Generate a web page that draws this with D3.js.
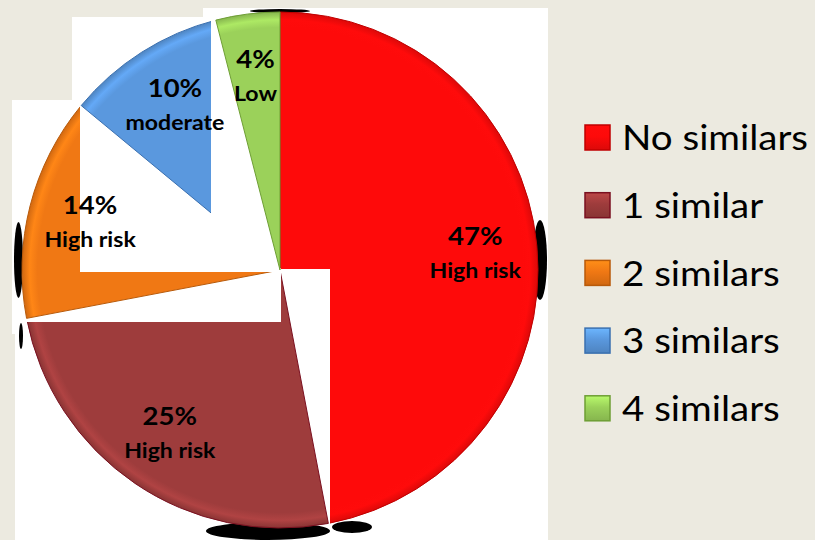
<!DOCTYPE html>
<html>
<head>
<meta charset="utf-8">
<script src="https://cdn.jsdelivr.net/npm/d3@7"></script>
<style>
  html, body { margin: 0; padding: 0; background: #ECEAE0; }
  svg { display: block; }
</style>
</head>
<body>
<script>
// chart data
var categories = ['No similars', '1 similar', '2 similars', '3 similars', '4 similars'];
var values = [47, 25, 14, 10, 4];
var riskLabels = ['High risk', 'High risk', 'High risk', 'moderate', 'Low'];

var W = 815, H = 540;
var cx = 280, cy = 270, r = 258;

var color = d3.scaleOrdinal()
    .domain(categories)
    .range(['#FE0A0A', '#9E3C3C', '#F07814', '#5A98DE', '#9BD15A']);
var edge = d3.scaleOrdinal()
    .domain(categories)
    .range(['#C00000', '#7A1020', '#B85A0A', '#3A70B0', '#6E9E35']);

var svg = d3.select('body').append('svg')
    .attr('width', W)
    .attr('height', H);

svg.append('rect').attr('width', W).attr('height', H).attr('fill', '#ECEAE0');

// white plot area (stepped)
var bg = svg.append('g').attr('fill', '#fff');
bg.append('rect').attr('x', 203).attr('y', 8).attr('width', 345).attr('height', H - 8);
bg.append('rect').attr('x', 72).attr('y', 17).attr('width', 140).attr('height', H - 17);
bg.append('rect').attr('x', 15).attr('y', 100).attr('width', 70).attr('height', H - 100);
bg.append('rect').attr('x', 12).attr('y', 100).attr('width', 5).attr('height', 234);

var defs = svg.append('defs');

// bevel-ish shading for slices
categories.forEach(function(c, i) {
    var g = defs.append('radialGradient')
        .attr('id', 'sl' + i)
        .attr('gradientUnits', 'userSpaceOnUse')
        .attr('cx', 0).attr('cy', 0).attr('r', r);
    var base = d3.color(color(c));
    g.append('stop').attr('offset', '0%').attr('stop-color', base);
    g.append('stop').attr('offset', '94%').attr('stop-color', base);
    g.append('stop').attr('offset', '97%').attr('stop-color', base.brighter(0.3));
    g.append('stop').attr('offset', '100%').attr('stop-color', base.darker(0.4));

    var lg = defs.append('linearGradient')
        .attr('id', 'lg' + i)
        .attr('x1', 0).attr('y1', 0).attr('x2', 0).attr('y2', 1);
    lg.append('stop').attr('offset', '0%').attr('stop-color', base.brighter(0.5));
    lg.append('stop').attr('offset', '45%').attr('stop-color', base);
    lg.append('stop').attr('offset', '100%').attr('stop-color', base.darker(0.4));
});

defs.append('clipPath').attr('id', 'blueClip')
    .append('rect').attr('x', 0).attr('y', 0).attr('width', 211).attr('height', H);

var pie = d3.pie().sort(null).value(function(d) { return d; });
var arcs = pie(values);
var arc = d3.arc().innerRadius(0).outerRadius(r);
var labelArc = d3.arc().innerRadius(r * 0.76).outerRadius(r * 0.76);

var layer = svg.append('g');

// leftover black shadow bits peeking out from under the pie
var shadows = [
    [18.5, 260, 4.5, 38], [21, 336, 2, 13],
    [540, 260, 7, 40],
    [268, 531, 62, 9], [352, 527, 20, 6],
    [280, 11, 30, 2]
];
layer.selectAll('ellipse.sh').data(shadows).enter().append('ellipse')
    .attr('class', 'sh')
    .attr('cx', function(d) { return d[0]; })
    .attr('cy', function(d) { return d[1]; })
    .attr('rx', function(d) { return d[2]; })
    .attr('ry', function(d) { return d[3]; })
    .attr('fill', '#000');

function slice(parent, i) {
    return parent.append('path')
        .attr('transform', 'translate(' + cx + ',' + cy + ')')
        .attr('d', arc(arcs[i]))
        .attr('fill', 'url(#sl' + i + ')')
        .attr('stroke', edge(categories[i]))
        .attr('stroke-width', 1);
}
function blank(x, y, w, h) {
    layer.append('rect').attr('x', x).attr('y', y).attr('width', w).attr('height', h).attr('fill', '#fff');
}

// drawing order copies the pasted-picture look of the original
slice(layer, 0);
blank(cx + 1, cy - 1, 49, 256);
slice(layer, 1);
blank(22, cy - 2, cx - 21, 54);
slice(layer, 2);
blank(80, 100, cx - 80, 172);
slice(layer.append('g').attr('clip-path', 'url(#blueClip)'), 3);
slice(layer, 4);

// slice labels
var lab = svg.selectAll('.lab').data(arcs).enter().append('g')
    .attr('class', 'lab')
    .attr('transform', function(d) {
        var p = labelArc.centroid(d);
        return 'translate(' + (cx + p[0]) + ',' + (cy + p[1]) + ') scale(1.1,1)';
    })
    .attr('font-family', 'Lato, sans-serif')
    .attr('font-weight', 'bold')
    .attr('text-anchor', 'middle')
    .attr('fill', '#000');
lab.append('text')
    .attr('y', -7)
    .attr('font-size', 25)
    .text(function(d) { return d.data + '%'; });
lab.append('text')
    .attr('y', 26)
    .attr('font-size', 21)
    .text(function(d, i) { return riskLabels[i]; });

// legend
var legend = svg.append('g').attr('transform', 'translate(585,125)');
var row = legend.selectAll('g').data(categories).enter().append('g')
    .attr('transform', function(d, i) { return 'translate(0,' + (i * 67.7) + ')'; });
row.append('rect')
    .attr('width', 25).attr('height', 25)
    .attr('fill', function(d, i) { return 'url(#lg' + i + ')'; })
    .attr('stroke', function(d) { return edge(d); })
    .attr('stroke-width', 1.5);
row.append('text')
    .attr('transform', 'translate(37,12.5) scale(1.1,1)')
    .attr('dy', '0.36em')
    .attr('font-family', 'Lato, sans-serif')
    .attr('font-size', 35)
    .attr('fill', '#000')
    .text(function(d) { return d; });
</script>
</body>
</html>
